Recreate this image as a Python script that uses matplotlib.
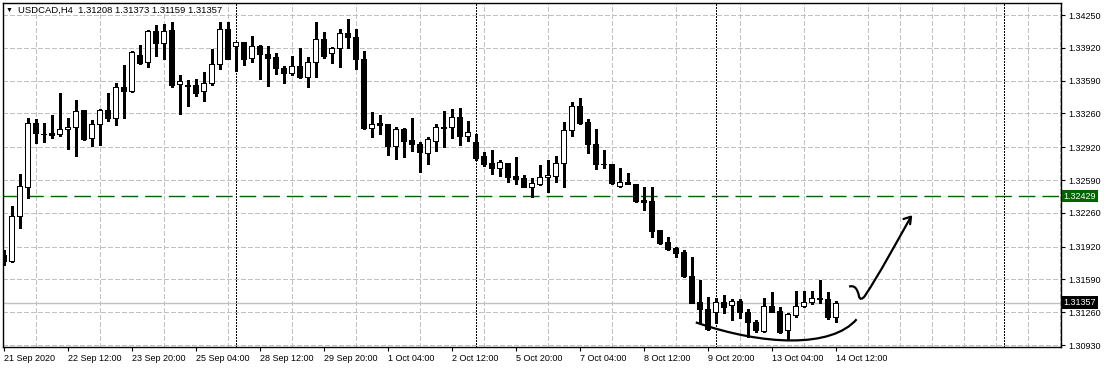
import numpy as np
import matplotlib
matplotlib.use("Agg")
import matplotlib.pyplot as plt
from matplotlib.path import Path
from matplotlib.patches import PathPatch
import matplotlib.transforms as mtransforms

plt.rcParams['font.family'] = ['Liberation Sans', 'DejaVu Sans']
plt.rcParams['lines.scale_dashes'] = False

# USDCAD H4, bar 0 = 21 Sep 2020 04:00
opens = [1.31836, 1.31778, 1.32231, 1.32523, 1.33161, 1.33048, 1.33063, 1.33050, 1.33100, 1.33120,
         1.33294, 1.33010, 1.33151, 1.33294, 1.33211, 1.33523, 1.33489, 1.33848, 1.33774, 1.34089,
         1.33965, 1.34099, 1.33553, 1.33543, 1.33546, 1.33486, 1.33563, 1.33754, 1.34109, 1.33938,
         1.33975, 1.33814, 1.33938, 1.33858, 1.33830, 1.33714, 1.33663, 1.33737, 1.33629, 1.33774,
         1.34005, 1.33868, 1.33915, 1.34066, 1.34026, 1.33804, 1.33110, 1.33161, 1.33151, 1.32935,
         1.33103, 1.32993, 1.32953, 1.32859, 1.32985, 1.33117, 1.33120, 1.33221, 1.33036, 1.32970,
         1.32832, 1.32758, 1.32714, 1.32758, 1.32630, 1.32607, 1.32523, 1.32550, 1.32617, 1.32634,
         1.32758, 1.33093, 1.33335, 1.33171, 1.32950, 1.32753, 1.32751, 1.32533, 1.32573, 1.32547,
         1.32389, 1.32379, 1.32087, 1.31966, 1.31909, 1.31869, 1.31624, 1.31366, 1.31289, 1.31260,
         1.31360, 1.31333, 1.31373, 1.31260, 1.31165, 1.31074, 1.31323, 1.31273, 1.31081, 1.31232,
         1.31323, 1.31360, 1.31404, 1.31394, 1.31208]
highs = [1.31886, 1.32329, 1.32651, 1.33211, 1.33201, 1.33161, 1.33244, 1.33462, 1.33211, 1.33395,
         1.33299, 1.33194, 1.33307, 1.33462, 1.33563, 1.33747, 1.33891, 1.33948, 1.34099, 1.34150,
         1.34157, 1.34177, 1.33646, 1.33596, 1.33603, 1.33680, 1.33905, 1.34177, 1.34184, 1.33978,
         1.33981, 1.34039, 1.33948, 1.33938, 1.33864, 1.33737, 1.33838, 1.33915, 1.33825, 1.34184,
         1.34076, 1.33925, 1.34109, 1.34210, 1.34109, 1.33888, 1.33271, 1.33241, 1.33154, 1.33120,
         1.33110, 1.33217, 1.32976, 1.33026, 1.33154, 1.33284, 1.33301, 1.33311, 1.33187, 1.33053,
         1.32869, 1.32892, 1.32791, 1.32764, 1.32818, 1.32641, 1.32607, 1.32741, 1.32791, 1.32835,
         1.33177, 1.33378, 1.33418, 1.33204, 1.33103, 1.32892, 1.32756, 1.32714, 1.32663, 1.32550,
         1.32520, 1.32523, 1.32092, 1.32013, 1.31919, 1.31886, 1.31815, 1.31584, 1.31414, 1.31404,
         1.31431, 1.31390, 1.31394, 1.31289, 1.31182, 1.31400, 1.31465, 1.31316, 1.31256, 1.31475,
         1.31475, 1.31475, 1.31584, 1.31465, 1.31373]
lows = [1.31735, 1.31765, 1.32110, 1.32412, 1.32959, 1.32975, 1.33016, 1.33033, 1.32899, 1.32835,
        1.32993, 1.32935, 1.32942, 1.33187, 1.33143, 1.33217, 1.33479, 1.33757, 1.33724, 1.33841,
        1.33804, 1.33529, 1.33251, 1.33335, 1.33438, 1.33388, 1.33546, 1.33706, 1.33807, 1.33690,
        1.33747, 1.33780, 1.33606, 1.33539, 1.33657, 1.33563, 1.33646, 1.33619, 1.33523, 1.33629,
        1.33814, 1.33770, 1.33724, 1.33915, 1.33706, 1.33100, 1.33020, 1.33053, 1.32842, 1.32799,
        1.32825, 1.32885, 1.32674, 1.32748, 1.32885, 1.32925, 1.33010, 1.32942, 1.32985, 1.32791,
        1.32731, 1.32648, 1.32630, 1.32573, 1.32547, 1.32517, 1.32422, 1.32540, 1.32472, 1.32573,
        1.32517, 1.33036, 1.33154, 1.32865, 1.32698, 1.32708, 1.32550, 1.32517, 1.32547, 1.32369,
        1.32288, 1.32020, 1.31946, 1.31886, 1.31812, 1.31617, 1.31350, 1.31154, 1.31081, 1.31154,
        1.31256, 1.31181, 1.31198, 1.31014, 1.31061, 1.31061, 1.31263, 1.31051, 1.30981, 1.31209,
        1.31316, 1.31343, 1.31350, 1.31193, 1.31159]
closes = [1.31775, 1.32228, 1.32530, 1.33161, 1.33060, 1.33053, 1.33043, 1.33103, 1.33123, 1.33284,
          1.33003, 1.33151, 1.33294, 1.33211, 1.33523, 1.33489, 1.33881, 1.33770, 1.34089, 1.33965,
          1.34089, 1.33546, 1.33586, 1.33537, 1.33468, 1.33563, 1.33757, 1.34109, 1.33810, 1.33975,
          1.33810, 1.33938, 1.33855, 1.33820, 1.33714, 1.33663, 1.33737, 1.33629, 1.33774, 1.34005,
          1.33841, 1.33915, 1.34066, 1.34026, 1.33804, 1.33110, 1.33151, 1.33147, 1.32935, 1.33103,
          1.32985, 1.32950, 1.32875, 1.33000, 1.33120, 1.33121, 1.33221, 1.33036, 1.33070, 1.32815,
          1.32751, 1.32714, 1.32768, 1.32623, 1.32600, 1.32523, 1.32557, 1.32617, 1.32641, 1.32758,
          1.33093, 1.33335, 1.33167, 1.32950, 1.32748, 1.32749, 1.32557, 1.32567, 1.32553, 1.32382,
          1.32372, 1.32080, 1.31959, 1.31896, 1.31859, 1.31624, 1.31356, 1.31289, 1.31088, 1.31360,
          1.31316, 1.31373, 1.31260, 1.31165, 1.31078, 1.31323, 1.31266, 1.31061, 1.31242, 1.31323,
          1.31360, 1.31400, 1.31391, 1.31216, 1.31357]

date_labels = ["21 Sep 2020", "22 Sep 12:00", "23 Sep 20:00", "25 Sep 04:00", "28 Sep 12:00",
               "29 Sep 20:00", "1 Oct 04:00", "2 Oct 12:00", "5 Oct 20:00", "7 Oct 04:00",
               "8 Oct 12:00", "9 Oct 20:00", "13 Oct 04:00", "14 Oct 12:00"]
price_ticks = [1.34250, 1.33920, 1.33590, 1.33260, 1.32920, 1.32590,
               1.32260, 1.31920, 1.31590, 1.31260, 1.30930]
week_starts = [29, 59, 89, 125]
level_line = 1.32429
last_price = closes[-1]

# hand drawn marks (bar index, price)
smile = [(86.5, 1.31158), (95.0, 1.30920), (103.5, 1.30900), (106.6, 1.31189)]
arrow = [(105.66, 1.31517), (106.3, 1.31535), (106.7, 1.31500), (106.9, 1.31420),
         (107.0, 1.31385), (107.3, 1.31390), (107.6, 1.31420),
         (109.5, 1.31650), (111.5, 1.31950), (113.4, 1.32221)]
arrow_head = [(112.46, 1.32198), (113.4, 1.32221), (113.29, 1.32145)]

W, H = 1107, 368
fig = plt.figure(figsize=(W / 100, H / 100), dpi=100)
ax = fig.add_axes([3 / W, 21 / H, 1058 / W, 344 / H])

o = np.array(opens); c = np.array(closes)
hi = np.array(highs); lo = np.array(lows)
x = np.arange(len(o))
up = c >= o

ax.vlines(x, lo, hi, color='black', lw=0.75, zorder=3, antialiased=False)
body_h = np.maximum(np.abs(c - o), 0.000001)
ax.bar(x, body_h, bottom=np.minimum(o, c), width=0.58,
       color=np.where(up, 'white', 'black'), edgecolor='black', lw=0.72,
       zorder=4, antialiased=False)

# levels
ax.axhline(level_line, color='#006400', lw=1, dashes=(12, 5), zorder=2)
ax.axhline(last_price, color='#c0c0c0', lw=1, zorder=1)
for w in week_starts:
    ax.axvline(w, color='black', lw=0.75, dashes=(0.75, 0.75), zorder=2, antialiased=False)

# drawings
codes = [Path.MOVETO, Path.CURVE4, Path.CURVE4, Path.CURVE4]
ax.add_patch(PathPatch(Path(smile, codes), fill=False, lw=1.6, color='black', zorder=6))
acodes = [Path.MOVETO] + [Path.CURVE4] * 9
ax.add_patch(PathPatch(Path(arrow, acodes), fill=False, lw=1.6, color='black', zorder=6))
ax.plot([p[0] for p in arrow_head], [p[1] for p in arrow_head], color='black', lw=1.6,
        zorder=6, solid_capstyle='round')

ax.set_xlim(-0.1, 132.15)
ax.set_ylim(1.30910, 1.34371)

ax.yaxis.tick_right()
ax.set_yticks(price_ticks)
ax.set_yticklabels(['%.5f' % p for p in price_ticks])
ax.set_xticks(np.arange(0, 105, 8))
ax.set_xticklabels(date_labels, ha='left')
ax.set_xticks(np.arange(4, 133, 4), minor=True)
ax.tick_params(axis='both', which='major', labelsize=6.5, length=3, width=0.8, pad=2)
ax.tick_params(axis='x', which='minor', length=0)
ax.grid(axis='y', which='major', color='#c0c0c0', lw=0.75, dashes=(3, 2), antialiased=False)
ax.grid(axis='x', which='minor', color='#c0c0c0', lw=0.75, dashes=(3, 2), antialiased=False)
ax.grid(axis='x', which='major', visible=False)
ax.set_axisbelow(True)
for s in ax.spines.values():
    s.set_linewidth(1)

# price boxes on the axis
trans = mtransforms.blended_transform_factory(ax.transAxes, ax.transData)
ax.text(1.0025, level_line, '%.5f' % level_line, transform=trans, fontsize=6.5, color='white',
        va='center', ha='left', bbox=dict(boxstyle='square,pad=0.2', fc='#006400', ec='none'))
ax.text(1.0025, last_price, '%.5f' % last_price, transform=trans, fontsize=6.5, color='white',
        va='center', ha='left', bbox=dict(boxstyle='square,pad=0.2', fc='black', ec='none'))

# header
fig.text(6 / W, 1 - 10 / H, '\u25bc', fontsize=5, va='center', ha='left')
fig.text(18 / W, 1 - 10 / H, 'USDCAD,H4  %.5f %.5f %.5f %.5f' % (opens[-1], highs[-1], lows[-1], closes[-1]),
         fontsize=6.8, va='center', ha='left')

fig.savefig('out.png', dpi=100)
